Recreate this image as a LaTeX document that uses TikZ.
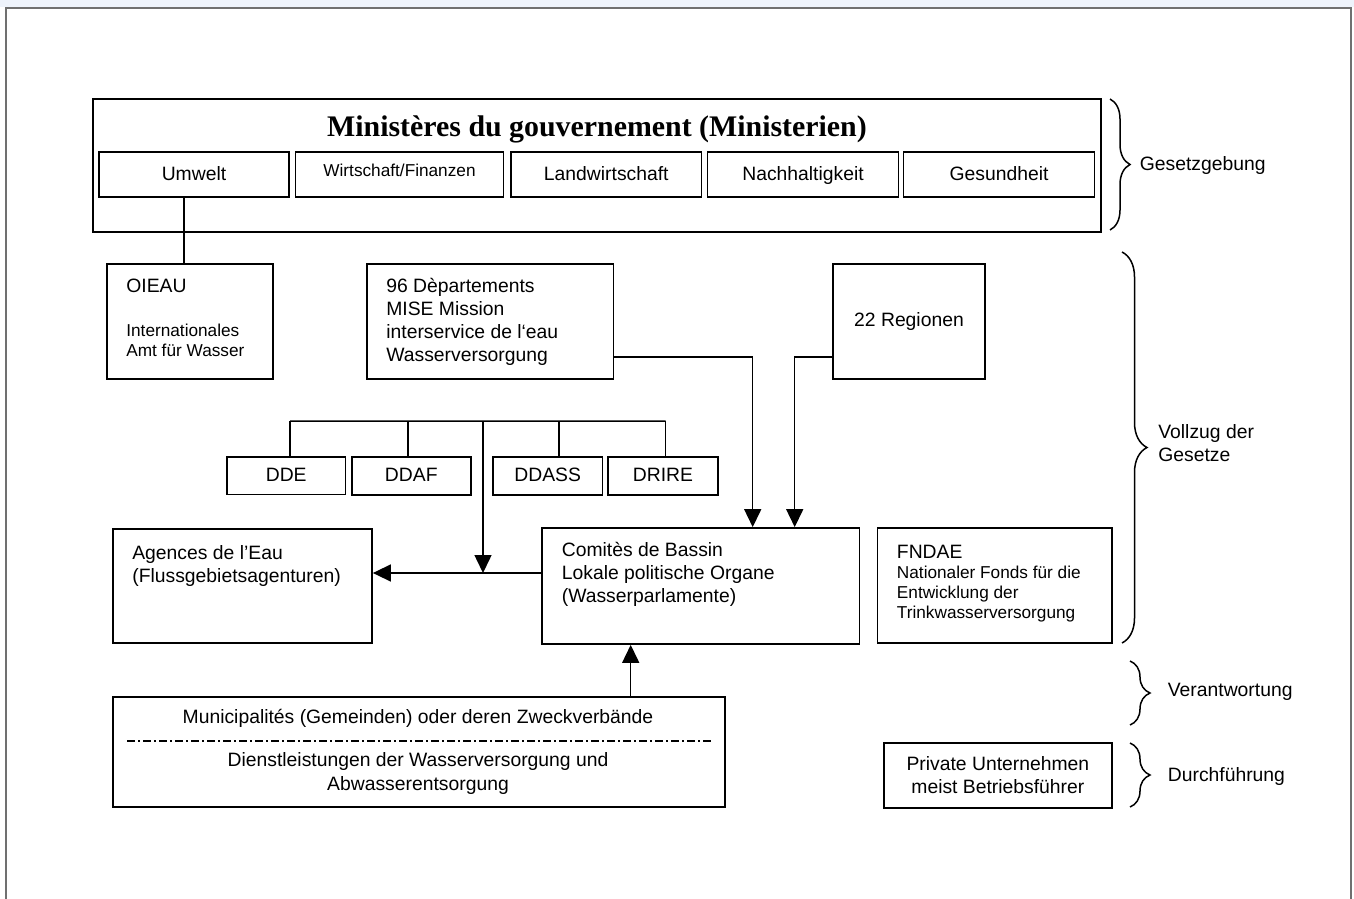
\documentclass[tikz,border=0pt]{standalone}
\usepackage{fontspec}
\setmainfont{Liberation Sans}
\newfontfamily\titelschrift{Liberation Serif}
\usepackage{tikz}
\usetikzlibrary{positioning,arrows.meta,decorations.pathreplacing}
\definecolor{rahmen}{HTML}{707070}
\definecolor{band}{HTML}{EEF3FB}
\newcommand\normtext{\fontsize{11}{13.1}\selectfont}
\newcommand\kleintext{\fontsize{9.8}{11.4}\selectfont}

\begin{document}
\begin{tikzpicture}[
  x=0.2mm, y=-0.2mm,
  font=\normtext,
  kasten/.style={draw, line width=0.35mm, inner sep=0pt},
  zeile/.style={text height=1.6ex, text depth=0.4ex},
  txt/.style={anchor=north west, align=left, inner sep=0pt},
  seite/.style={anchor=west, align=left, inner sep=0pt},
  pfeil/.style={-{Triangle[length=3.6mm,width=3.4mm]}, line width=0.3mm},
  linie/.style={line width=0.3mm},
  klammer/.style={decorate, decoration={brace, amplitude=#1}, line width=0.3mm},
  klammer/.default=4mm
]
  \useasboundingbox (0,0) rectangle (1354,899);
  \fill[band] (0,0) rectangle (1354,7);
  \draw[rahmen, line width=0.35mm] (6,899) -- (6,8) -- (1351,8) -- (1351,899);

  \node[kasten, minimum width=201.6mm, minimum height=26.6mm] (ministerien) at (597,165.5) {};
  \node[anchor=base, font=\titelschrift\bfseries\fontsize{17}{20}\selectfont] (titel) at (597,137)
        {Ministères du gouvernement (Ministerien)};
  \node[kasten, zeile, minimum width=38mm, minimum height=9mm] (umwelt) at (194,174.5) {Umwelt};
  \node[kasten, minimum width=41.6mm, minimum height=9mm] (wirtschaft) at (399.5,174.5) {};
  \node[zeile, font=\kleintext] (wirtschafttxt) at (399.5,171) {Wirtschaft/Finanzen};
  \node[kasten, zeile, minimum width=38.1mm, minimum height=9mm] (landwirtschaft) at (606.3,174.5) {Landwirtschaft};
  \node[kasten, zeile, minimum width=38.2mm, minimum height=9mm] (nachhaltigkeit) at (803,174.5) {Nachhaltigkeit};
  \node[kasten, zeile, minimum width=38.2mm, minimum height=9mm] (gesundheit) at (999,174.5) {Gesundheit};

  \node[kasten, minimum width=33.2mm, minimum height=23mm] (oieau) at (190,321.5) {};
  \node[txt] (oieautitel) at (126,279) {OIEAU};
  \node[txt, font=\kleintext] (oieautxt) at (126,324) {Internationales\\Amt für Wasser};
  \node[kasten, minimum width=49.3mm, minimum height=23mm] (dep) at (490.3,321.5) {};
  \node[txt] (deptxt) at (386,278)
        {96 Dèpartements\\MISE Mission\\interservice de l‘eau\\Wasserversorgung};
  \node[kasten, minimum width=30.4mm, minimum height=23mm] (regionen) at (909,321.5) {22 Regionen};

  \node[kasten, zeile, minimum width=23.7mm, minimum height=7.5mm] (dde) at (286.2,475.7) {DDE};
  \node[kasten, zeile, minimum width=23.8mm, minimum height=7.6mm] (ddaf) at (411.3,476) {DDAF};
  \node[kasten, zeile, minimum width=21.9mm, minimum height=7.6mm] (ddass) at (547.7,476) {DDASS};
  \node[kasten, zeile, minimum width=22mm, minimum height=7.6mm] (drire) at (662.9,476) {DRIRE};

  \node[kasten, minimum width=51.8mm, minimum height=22.8mm] (agences) at (242.5,586) {};
  \node[txt] (agencestxt) at (132,545) {Agences de l’Eau\\(Flussgebietsagenturen)};
  \node[kasten, minimum width=63.5mm, minimum height=23.2mm] (comites) at (700.7,586) {};
  \node[txt] (comitestxt) at (561.5,542)
        {Comitès de Bassin\\Lokale politische Organe\\(Wasserparlamente)};
  \node[kasten, minimum width=46.9mm, minimum height=23mm] (fndae) at (994.7,585.5) {};
  \node[txt] (fndaetitel) at (896.6,545) {FNDAE};
  \node[txt, font=\kleintext] (fndaetxt) at (896.6,566)
        {Nationaler Fonds für die\\Entwicklung der\\Trinkwasserversorgung};

  \node[kasten, minimum width=122.3mm, minimum height=22.1mm] (muni) at (419,752) {};
  \node[zeile] (munioben) at (418,718) {Municipalités (Gemeinden) oder deren Zweckverbände};
  \node[align=center] (muniunten) at (418,773.5)
        {Dienstleistungen der Wasserversorgung und\\Abwasserentsorgung};
  \draw[linie, dash pattern=on 1.6mm off 0.6mm on 0.4mm off 0.6mm]
        ([xshift=3mm,yshift=2.2mm]muni.west) -- ([xshift=-2.9mm,yshift=2.2mm]muni.east);
  \node[kasten, align=center, minimum width=45.7mm, minimum height=13mm] (privat) at (997.9,775.2)
        {Private Unternehmen\\meist Betriebsführer};

  % Verbindungen
  \coordinate (umweltfuss) at ([xshift=-2mm]umwelt.south);
  \draw[linie] (umweltfuss) -- (umweltfuss |- oieau.north);
  \foreach \n/\dx in {dde/0.76, ddaf/-0.66, ddass/2.24, drire/0.56}
    \draw[linie] ([xshift=\dx mm]\n.north) -- ++(0mm,7mm);
  \draw[linie] ([xshift=0.76mm,yshift=7mm]dde.north) -- ([xshift=0.56mm,yshift=7mm]drire.north);
  \coordinate (bus) at (483,422);
  \coordinate (agin) at ([yshift=2.6mm]agences.east);
  \draw[pfeil] (bus) -- (bus |- agin);
  \draw[pfeil] ([yshift=2.6mm]comites.west) -- (agin);
  \coordinate (cin1) at ([xshift=10.4mm]comites.north);
  \coordinate (cin2) at ([xshift=18.8mm]comites.north);
  \draw[pfeil] ([yshift=4.6mm]dep.south east) -| (cin1);
  \draw[pfeil] ([yshift=4.6mm]regionen.south west) -| (cin2);
  \coordinate (cunten) at ([xshift=-14mm]comites.south);
  \draw[pfeil] (cunten |- muni.north) -- (cunten);

  % Klammern
  \draw[klammer] (1110,99) -- (1110,230);
  \node[seite] (gesetzgebung) at (1139.5,166) {Gesetzgebung};
  \draw[klammer=5mm] (1122,252) -- (1122,643);
  \node[seite] (vollzug) at (1158,443) {Vollzug der\\Gesetze};
  \draw[klammer] (1130,661) -- (1130,725);
  \node[seite] (verantwortung) at (1167.5,692) {Verantwortung};
  \draw[klammer] (1130,743) -- (1130,807);
  \node[seite] (durchfuehrung) at (1167.5,776) {Durchführung};
\end{tikzpicture}
\end{document}
